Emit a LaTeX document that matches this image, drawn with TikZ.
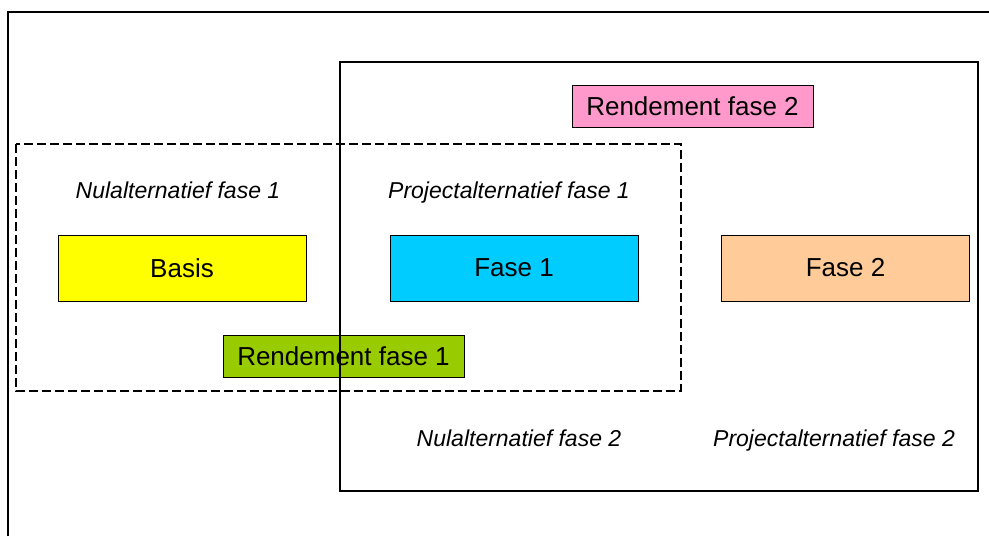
\documentclass[tikz,border=0pt]{standalone}
\usepackage{fontspec}
\setmainfont{Liberation Sans}
\usepackage{tikz}
\usetikzlibrary{positioning}
\definecolor{geel}{RGB}{255,255,0}
\definecolor{blauw}{RGB}{0,204,255}
\definecolor{perzik}{RGB}{255,204,153}
\definecolor{groen}{RGB}{153,204,0}
\definecolor{roze}{RGB}{255,153,204}
\tikzstyle{fasebox} = [rectangle, minimum width=124pt, minimum height=33pt, inner sep=0pt, text centered, draw=black, line width=0.5pt, font=\fontsize{13}{15}\selectfont]
\tikzstyle{rendbox} = [rectangle, minimum width=120.5pt, minimum height=21pt, inner sep=0pt, text centered, draw=black, line width=0.5pt, font=\fontsize{13}{15}\selectfont]
\tikzstyle{altlabel} = [inner sep=0pt, text height=8.5pt, text depth=2.5pt, font=\fontsize{11.5}{13}\selectfont\itshape]
\tikzstyle{kader} = [line width=0.8pt]

\begin{document}
\begin{tikzpicture}[x=0.5pt, y=-0.5pt]
\useasboundingbox (0,0) rectangle (989,536);
% Outer frame
\draw [kader] (8,536) -- (8,12) -- (989,12);

% Labels
\node (nul1) [altlabel] at (178,192) {Nulalternatief fase 1};
\node (proj1) [altlabel] at (509,192) {Projectalternatief fase 1};
\node (nul2) [altlabel] at (519,440) {Nulalternatief fase 2};
\node (proj2) [altlabel] at (834,440) {Projectalternatief fase 2};

% Boxes
\node (basis) [fasebox, fill=geel] at (182,268) {Basis};
\node (fase1) [fasebox, fill=blauw] at (514,268) {Fase 1};
\node (fase2) [fasebox, fill=perzik] at (845.5,268) {Fase 2};
\node (rend1) [rendbox, fill=groen] at (343.5,356) {Rendement fase 1};
\node (rend2) [rendbox, fill=roze] at (692.5,106.5) {Rendement fase 2};

% Frames
\draw [kader, dash pattern=on 4.5pt off 2pt] (16,144) rectangle (681,391);
\draw [kader] (340,62) rectangle (978,491);
\end{tikzpicture}
\end{document}
